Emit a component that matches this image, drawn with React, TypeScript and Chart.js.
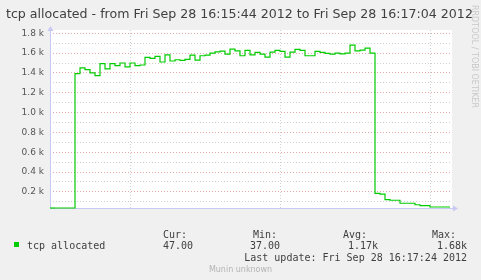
import React, { useEffect, useRef } from "react";
import { Chart, registerables } from "chart.js";

Chart.register(...registerables);

const TITLE = "tcp allocated - from Fri Sep 28 16:15:44 2012 to Fri Sep 28 16:17:04 2012";
const SERIES_LABEL = "tcp allocated";
const WATERMARK = "RRDTOOL / TOBI OETIKER";
const FOOTER = "Munin unknown";
const LAST_UPDATE = "Last update: Fri Sep 28 16:17:24 2012";

// one value per second, 16:15:44 .. 16:17:04
const tcpAllocated = [
  37, 37, 37, 37, 37,
  1393, 1450, 1433, 1400, 1373, 1493, 1440, 1493, 1473, 1500,
  1460, 1500, 1473, 1480, 1557, 1547, 1567, 1510, 1583, 1520,
  1533, 1527, 1537, 1580, 1530, 1573, 1580, 1600, 1613, 1620,
  1590, 1640, 1623, 1573, 1627, 1583, 1607, 1590, 1560, 1610,
  1627, 1617, 1560, 1610, 1637, 1627, 1573, 1573, 1617, 1607,
  1597, 1590, 1600, 1593, 1600, 1680, 1623, 1630, 1650, 1600,
  185, 178, 122, 115, 115, 85, 85, 85, 70, 60,
  60, 47, 47, 47, 47,
];

// vertical grid at 16:16:00, 16:16:30, 16:17:00 (seconds after start)
const xGridSeconds = [16, 46, 76];
const yGridValues = [100, 200, 300, 400, 500, 600, 700, 800, 900, 1000, 1100, 1200, 1300, 1400, 1500, 1600, 1700, 1800];
const yTickLabels: Record<number, string> = {
  200: "0.2 k", 400: "0.4 k", 600: "0.6 k", 800: "0.8 k", 1000: "1.0 k",
  1200: "1.2 k", 1400: "1.4 k", 1600: "1.6 k", 1800: "1.8 k",
};

const statHeaders = ["Cur:", "Min:", "Avg:", "Max:"];
const statValues = ["47.00", "37.00", "1.17k", "1.68k"];

const SANS = '"DejaVu Sans", sans-serif';
const MONO = '"DejaVu Sans Mono", monospace';

const decorPlugin = {
  id: "rrdDecor",
  beforeDraw(chart: any) {
    const { ctx, chartArea } = chart;
    ctx.save();
    ctx.fillStyle = "#f0f0f0";
    ctx.fillRect(0, 0, chart.width, chart.height);
    ctx.fillStyle = "#ffffff";
    ctx.fillRect(chartArea.left, chartArea.top, chartArea.right - chartArea.left + 2, chartArea.bottom - chartArea.top);
    ctx.restore();
  },
  beforeDatasetsDraw(chart: any) {
    const { ctx, chartArea } = chart;
    const { left, right, top, bottom } = chartArea;
    ctx.save();
    // axes with arrows
    const axisColor = "#c8c8f4";
    ctx.strokeStyle = axisColor;
    ctx.fillStyle = axisColor;
    ctx.lineWidth = 1;
    ctx.beginPath();
    ctx.moveTo(left + 0.5, bottom + 0.5);
    ctx.lineTo(left + 0.5, top - 2);
    ctx.moveTo(left, bottom + 0.5);
    ctx.lineTo(right + 4, bottom + 0.5);
    ctx.stroke();
    ctx.beginPath();
    ctx.moveTo(left + 0.5, top - 4);
    ctx.lineTo(left - 2.5, top + 1);
    ctx.lineTo(left + 3.5, top + 1);
    ctx.closePath();
    ctx.fill();
    ctx.beginPath();
    ctx.moveTo(right + 8, bottom + 0.5);
    ctx.lineTo(right + 3, bottom - 2.5);
    ctx.lineTo(right + 3, bottom + 3.5);
    ctx.closePath();
    ctx.fill();
    ctx.restore();
  },
  afterDraw(chart: any) {
    const { ctx } = chart;
    ctx.save();
    // title
    ctx.fillStyle = "#404040";
    ctx.font = `12.6px ${SANS}`;
    ctx.textBaseline = "alphabetic";
    ctx.textAlign = "left";
    ctx.fillText(TITLE, 6, 17.5);

    // watermark
    ctx.save();
    ctx.translate(471, 5);
    ctx.rotate(Math.PI / 2);
    ctx.fillStyle = "#c8c8c8";
    ctx.font = `8px ${SANS}`;
    ctx.textBaseline = "middle";
    ctx.fillText(WATERMARK, 0, -3);
    ctx.restore();

    // legend
    ctx.fillStyle = "#00cc00";
    ctx.fillRect(14, 242, 5, 5);
    ctx.fillStyle = "#404040";
    ctx.font = `10px ${MONO}`;
    ctx.fillText(SERIES_LABEL, 27, 248.5);
    const headerX = [163, 253, 343, 432];
    statHeaders.forEach((h, i) => ctx.fillText(h, headerX[i], 237.5));
    ctx.textAlign = "right";
    const valueRight = [193, 280, 378, 467];
    statValues.forEach((v, i) => ctx.fillText(v, valueRight[i], 248.5));
    ctx.fillText(LAST_UPDATE, 467, 260.5);

    // footer
    ctx.textAlign = "center";
    ctx.fillStyle = "#b4b4b4";
    ctx.font = `8px ${SANS}`;
    ctx.fillText(FOOTER, 240.5, 272);
    ctx.restore();
  },
};

export default function App() {
  const canvasRef = useRef<HTMLCanvasElement>(null);

  useEffect(() => {
    document.body.style.margin = "0";
    const canvas = canvasRef.current;
    if (!canvas) return;
    const chart = new Chart(canvas, {
      type: "line",
      data: {
        datasets: [
          {
            // each value is drawn over its one-second interval, ending at x
            label: SERIES_LABEL,
            data: tcpAllocated.map((v, i) => ({ x: i + 1, y: v })),
            borderColor: "#00cc00",
            borderWidth: 1.2,
            pointRadius: 0,
            stepped: "after",
            fill: false,
            clip: 2,
          },
          {
            // the first one-second interval, starting at the graph's start time
            label: SERIES_LABEL + " start",
            data: [
              { x: 0, y: tcpAllocated[0] },
              { x: 1, y: tcpAllocated[0] },
            ],
            borderColor: "#00cc00",
            borderWidth: 1.2,
            pointRadius: 0,
            fill: false,
            clip: 2,
          },
        ],
      },
      options: {
        responsive: false,
        animation: false,
        devicePixelRatio: 1,
        layout: { padding: { left: 0, right: 31, top: 30, bottom: 72 } },
        plugins: { legend: { display: false }, tooltip: { enabled: false }, title: { display: false } },
        scales: {
          x: {
            type: "linear",
            min: 0,
            max: 80,
            afterBuildTicks: (scale: any) => {
              scale.ticks = xGridSeconds.map((v) => ({ value: v }));
            },
            afterFit: (scale: any) => {
              scale.height = 0;
            },
            ticks: { display: false },
            grid: {
              color: "#d0d0d0",
              lineWidth: 1,
              drawTicks: false,
              borderDash: [1, 2],
            } as any,
            border: { display: false, dash: [1, 2] },
          },
          y: {
            type: "linear",
            min: 37,
            max: 1833,
            afterBuildTicks: (scale: any) => {
              scale.ticks = yGridValues.map((v) => ({ value: v }));
            },
            afterFit: (scale: any) => {
              scale.width = 50;
            },
            ticks: {
              autoSkip: false,
              padding: 6,
              color: "#555555",
              font: { family: "DejaVu Sans", size: 9 },
              callback: (value: any) => yTickLabels[value as number] ?? "",
            },
            grid: {
              color: (ctx: any) => (ctx.tick && ctx.tick.value % 200 === 0 ? "#e4a8a8" : "#d0d0d0"),
              lineWidth: 1,
              drawTicks: false,
              borderDash: [1, 2],
            } as any,
            border: { display: false, dash: [1, 2] },
          },
        },
      },
      plugins: [decorPlugin],
    } as any);
    return () => chart.destroy();
  }, []);

  return (
    <div style={{ position: "absolute", left: 0, top: 0, width: 481, height: 280 }}>
      <canvas ref={canvasRef} width={481} height={280} style={{ display: "block", width: 481, height: 280 }} />
    </div>
  );
}
